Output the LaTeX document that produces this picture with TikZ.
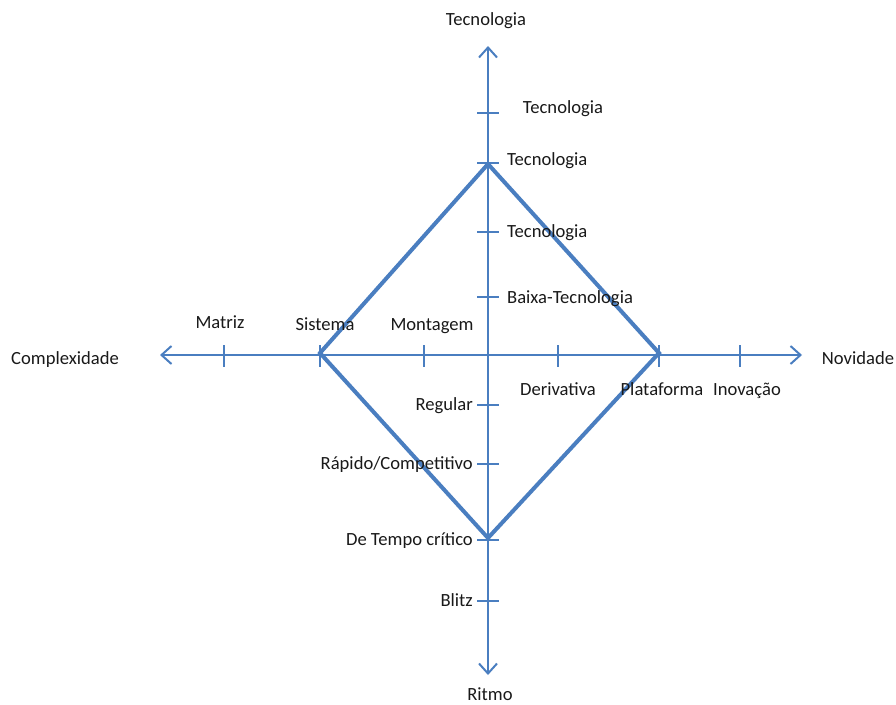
\documentclass[tikz,border=0pt]{standalone}
\usepackage{fontspec}
\setmainfont{Carlito}
\usetikzlibrary{arrows.meta}
\definecolor{axblue}{RGB}{74,126,192}
\definecolor{txt}{RGB}{25,25,25}
\tikzset{
  axis/.style={draw=axblue,line width=2pt,-{Straight Barb[length=10pt,width=18pt,line width=2pt]}},
  tick/.style={draw=axblue,line width=2pt},
  diam/.style={draw=axblue,line width=4pt,line join=miter},
  lbl/.style={inner sep=0pt,text=txt,font=\fontsize{18.6}{20}\selectfont,yshift=-3.5pt}
}
\begin{document}
\begin{tikzpicture}[x=1pt,y=-1pt]
\useasboundingbox (0,0) rectangle (896,704);
% axis endpoints
\coordinate (O) at (488,355);
\coordinate (T) at (488,46);
\coordinate (B) at (488,675);
\coordinate (L) at (160,355);
\coordinate (R) at (802,355);
\draw[axis] (O) -- (T);
\draw[axis] (O) -- (B);
\draw[axis] (O) -- (L);
\draw[axis] (O) -- (R);
% vertical ticks
\foreach \y in {113,163,232,297,405,464,540,601}
  \draw[tick] (477,\y) -- (499,\y);
% horizontal ticks
\foreach \x in {224,320,424,558,659,740}
  \draw[tick] (\x,345) -- (\x,367);
% diamond
\coordinate (dT) at (488,164);
\coordinate (dR) at (659,353);
\coordinate (dB) at (488,538);
\coordinate (dL) at (320,353);
\draw[diam] (dT) -- (dR) -- (dB) -- (dL) -- cycle;
% labels
\node[lbl,anchor=mid] (tTop) at (486,20) {Tecnologia};
\node[lbl,anchor=mid] (t1) at (563,108) {Tecnologia};
\node[lbl,anchor=mid west] (t2) at (507,160) {Tecnologia};
\node[lbl,anchor=mid west] (t3) at (507,232) {Tecnologia};
\node[lbl,anchor=mid west] (t4) at (507,298) {Baixa-Tecnologia};
\node[lbl,anchor=mid] (mat) at (220,323) {Matriz};
\node[lbl,anchor=mid] (sis) at (325,325) {Sistema};
\node[lbl,anchor=mid] (mon) at (432,325) {Montagem};
\node[lbl,anchor=mid] (cpx) at (65,359) {Complexidade};
\node[lbl,anchor=mid] (nov) at (858,359) {Novidade};
\node[lbl,anchor=mid] (der) at (558,390) {Derivativa};
\node[lbl,anchor=mid] (pla) at (662,390) {Plataforma};
\node[lbl,anchor=mid] (ino) at (747,390) {Inovação};
\node[lbl,anchor=mid east] (reg) at (473,405) {Regular};
\node[lbl,anchor=mid east] (rap) at (473,464) {Rápido/Competitivo};
\node[lbl,anchor=mid east] (dtc) at (473,540) {De Tempo crítico};
\node[lbl,anchor=mid east] (bli) at (473,601) {Blitz};
\node[lbl,anchor=mid] (rit) at (490,695) {Ritmo};
\end{tikzpicture}
\end{document}
